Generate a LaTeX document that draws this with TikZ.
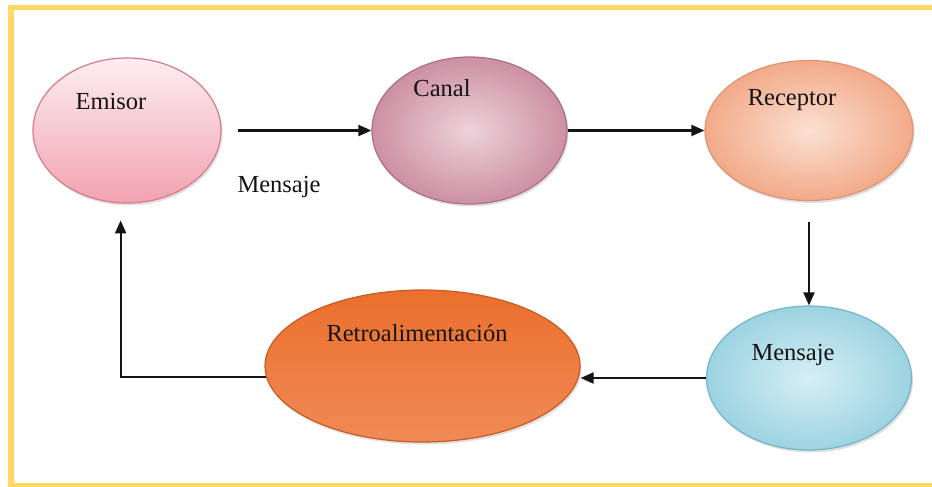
\documentclass[tikz,border=0pt]{standalone}
\usepackage{fontspec}
\setmainfont{Liberation Serif}
\usetikzlibrary{shapes.geometric,arrows.meta,shadows}
\definecolor{frameY}{HTML}{FFD963}
\definecolor{emTop}{HTML}{FCEEF1}
\definecolor{emBot}{HTML}{F2A2B0}
\definecolor{emLine}{HTML}{D97A8C}
\definecolor{caIn}{HTML}{EDD2DA}
\definecolor{caOut}{HTML}{CC90A3}
\definecolor{caLine}{HTML}{AE6E86}
\definecolor{reIn}{HTML}{FBE0D2}
\definecolor{reOut}{HTML}{F2AA88}
\definecolor{reLine}{HTML}{DE9474}
\definecolor{rtTop}{HTML}{EB6F2C}
\definecolor{rtMid}{HTML}{E65F0C}
\definecolor{rtBot}{HTML}{F08A56}
\definecolor{rtLine}{HTML}{C85A22}
\definecolor{meIn}{HTML}{D6EFF5}
\definecolor{meOut}{HTML}{9CD3E1}
\definecolor{meLine}{HTML}{76B4C8}
\tikzset{
  bubble/.style={ellipse, inner sep=0pt, line width=1.2pt,
    drop shadow={shadow xshift=1.5pt, shadow yshift=-2.5pt, opacity=0.25}},
  lbl/.style={font=\fontsize{24.5}{28}\selectfont, text=black!92, inner sep=0pt},
  arr/.style={-{Triangle[length=13pt,width=11pt]}, line width=2.1pt, black!92}
}
\begin{document}
\begin{tikzpicture}[x=1pt,y=-1pt]
\useasboundingbox (0,0) rectangle (932,487);
\fill[white] (0,0) rectangle (932,487);
\draw[frameY, line width=5.5pt] (11,7.5) rectangle (945,485.5);

\node[bubble, draw=emLine, top color=emTop, bottom color=emBot,
  minimum width=188pt, minimum height=145pt] (emisor) at (127,130.5) {};
\node[bubble, draw=caLine, inner color=caIn, outer color=caOut,
  minimum width=195pt, minimum height=147pt] (canal) at (469.5,130.5) {};
\node[bubble, draw=reLine, inner color=reIn, outer color=reOut,
  minimum width=208pt, minimum height=140pt] (receptor) at (809,130.5) {};
\node[bubble, draw=rtLine, top color=rtTop, middle color=rtMid, bottom color=rtBot,
  minimum width=315pt, minimum height=152pt] (retro) at (422.5,366) {};
\node[bubble, draw=meLine, inner color=meIn, outer color=meOut,
  minimum width=205pt, minimum height=144pt] (mensaje) at (809,378) {};

\node[lbl] (temisor) at (111,102) {Emisor};
\node[lbl] (tcanal) at (442,88) {Canal};
\node[lbl] (treceptor) at (792,100) {Receptor};
\node[lbl] (tretro) at (417,333) {Retroalimentación};
\node[lbl] (tmensaje) at (793,355) {Mensaje};
\node[lbl] (tmsg) at (279,187) {Mensaje};

\draw[arr, shorten <=16pt] (emisor.east) -- (canal.west);
\draw[arr] (canal.east) -- (receptor.west);
\draw[arr, shorten <=21pt] (receptor.south) -- (mensaje.north);
\draw[arr] (mensaje.west) -- (retro.east |- mensaje.west);
\draw[arr, shorten >=17pt] (retro.184) -| (emisor.265);
\end{tikzpicture}
\end{document}
